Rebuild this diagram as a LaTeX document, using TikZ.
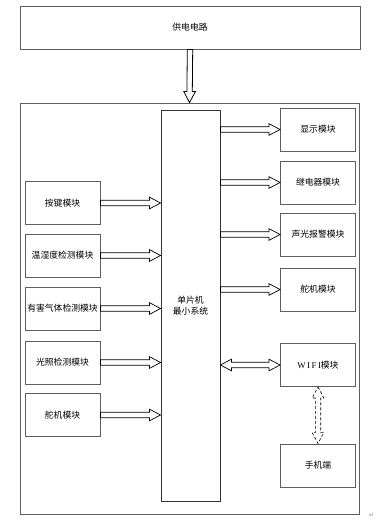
\documentclass[tikz,border=0pt]{standalone}
\usepackage{fontspec}
\setmainfont{Liberation Serif}
\newfontfamily\cjk{Noto Sans CJK SC}
\newfontfamily\symfont{DejaVu Sans}
\usepackage{tikz}
\usetikzlibrary{calc}
\definecolor{BoxGray}{RGB}{95, 95, 95}
\definecolor{MarkGray}{RGB}{150, 150, 150}

% hollow block arrows, drawn between two points
\newcommand{\ShaftW}{2.7pt}
\newcommand{\HeadW}{5.8pt}
\newcommand{\HeadL}{11pt}
\newcommand{\hollowarrow}[3][]{%
  \path (#2) coordinate (ta) (#3) coordinate (tb);
  \path ($(tb)!\HeadL!(ta)$) coordinate (hb);
  \draw[arrowbody,#1]
    ($(ta)!\ShaftW!90:(tb)$) -- ($(hb)!\ShaftW!-90:(ta)$) --
    ($(hb)!\HeadW!-90:(ta)$) -- (tb) -- ($(hb)!\HeadW!90:(ta)$) --
    ($(hb)!\ShaftW!90:(ta)$) -- ($(ta)!\ShaftW!-90:(tb)$) -- cycle;
}
\newcommand{\hollowdarrow}[3][]{%
  \path (#2) coordinate (ta) (#3) coordinate (tb);
  \path ($(tb)!\HeadL!(ta)$) coordinate (hb) ($(ta)!\HeadL!(tb)$) coordinate (ha);
  \draw[arrowbody,#1]
    (ta) -- ($(ha)!\HeadW!90:(tb)$) -- ($(ha)!\ShaftW!90:(tb)$) --
    ($(hb)!\ShaftW!-90:(ta)$) -- ($(hb)!\HeadW!-90:(ta)$) -- (tb) --
    ($(hb)!\HeadW!90:(ta)$) -- ($(hb)!\ShaftW!90:(ta)$) --
    ($(ha)!\ShaftW!-90:(tb)$) -- ($(ha)!\HeadW!-90:(tb)$) -- cycle;
}

\tikzset{
  modbox/.style={draw=BoxGray, line width=0.9pt, fill=white,
    minimum width=75pt, minimum height=43pt, inner sep=1pt,
    font=\cjk\fontsize{8.8}{11}\selectfont},
  arrowbody/.style={draw=black, line width=0.7pt, fill=white, line join=miter}
}

\begin{document}
\begin{tikzpicture}[x=1pt, y=-1pt]
  \useasboundingbox (0,0) rectangle (375,524);

  % power supply and board frame
  \node[modbox, minimum width=340pt] (power) at (190,27.5) {供电电路};
  \node[
    draw=BoxGray,
    line width=0.9pt,
    minimum width=339pt,
    minimum height=411pt
  ] (board) at (189.5,308.5) {};
  \node[
    modbox,
    draw=black!80,
    minimum width=59pt,
    minimum height=391pt,
    align=center
  ] (mcu) at (190.5,305.5) {单片机\\最小系统};

  % input modules
  \node[modbox] (key)   at (62.5,203)   {按键模块};
  \node[modbox] (hum)   at (62.5,255.5) {温湿度检测模块};
  \node[modbox] (gas)   at (62.5,308.5) {有害气体检测模块};
  \node[modbox] (light) at (62.5,362.5) {光照检测模块};
  \node[modbox] (servoin) at (62.5,415) {舵机模块};

  % output modules
  \node[modbox] (disp)  at (318,129.5) {显示模块};
  \node[modbox] (relay) at (318,182.5) {继电器模块};
  \node[modbox] (alarm) at (318,234.5) {声光报警模块};
  \node[modbox] (servo) at (318,289.5) {舵机模块};
  \node[modbox] (wifi)  at (318,365)   {{\rmfamily W\,I\,F\,I}模块};
  \node[modbox] (phone) at (318,465.5) {手机端};

  % connectors
  \hollowarrow[line width=0.8pt]{power.south}{board.north}
  \foreach \src in {key, hum, gas, light, servoin}
    \hollowarrow{\src.east}{mcu.west |- \src.east};
  \foreach \dst in {disp, relay, alarm, servo}
    \hollowarrow{mcu.east |- \dst.west}{\dst.west};
  \hollowdarrow{mcu.east |- wifi.west}{wifi.west}
  \hollowdarrow[dash pattern=on 3pt off 2pt, line width=0.6pt]{wifi.south}{phone.north}

  \node[font=\symfont\fontsize{6.5}{7}\selectfont, text=MarkGray, inner sep=0pt]
    (mark) at (371.5,515.5) {↵};
\end{tikzpicture}
\end{document}
